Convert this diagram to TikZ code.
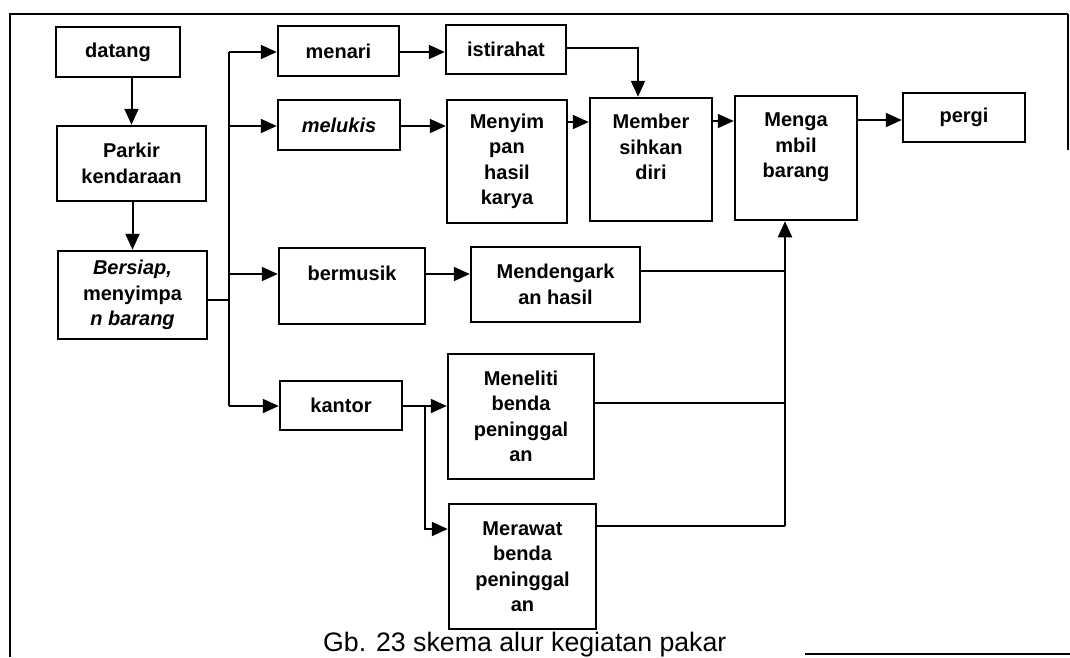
\documentclass[tikz,border=0pt]{standalone}
\usepackage{fontspec}
\setmainfont{Liberation Sans}
\usetikzlibrary{arrows.meta}
\begin{document}
\begin{tikzpicture}[x=1pt,y=-1pt,
  box/.style={draw, line width=2.5pt, inner sep=0pt, align=center,
    font=\bfseries\fontsize{20}{25.5}\selectfont},
  conn/.style={line width=2pt},
  arr/.style={conn, -{Triangle[length=16pt,width=14pt]}},
  frame/.style={line width=2.6pt}]
\useasboundingbox (0,0) rectangle (1070,657);
% frame
\draw[frame] (10,657) -- (10,14) -- (1068,14);
\draw[line width=1.4pt] (1068,14) -- (1068,150);
\draw[line width=2.2pt] (805,654) -- (1070,654);
% boxes
\node[box, minimum width=124pt, minimum height=50pt] (datang) at (118,52) {datang};
\node[box, minimum width=149pt, minimum height=75pt] (parkir) at (131.5,163.5) {Parkir\\kendaraan};
\node[box, minimum width=149pt, minimum height=88pt] (bersiap) at (132.5,295) {\itshape Bersiap,\\menyimpa\\\itshape n barang};
\node[box, minimum width=121pt, minimum height=50pt] (menari) at (338.5,51) {menari};
\node[box, minimum width=120pt, minimum height=49pt] (istirahat) at (506,49.5) {istirahat};
\node[box, minimum width=122pt, minimum height=50pt] (melukis) at (339,125) {\itshape melukis};
\node[box, minimum width=120pt, minimum height=123pt] (menyimpan) at (507,161.5) {Menyim\\pan\\hasil\\karya};
\node[box, minimum width=122pt, minimum height=123pt] (member) at (651,159.5) {Member\\sihkan\\diri\\~};
\node[box, minimum width=122pt, minimum height=124pt] (mengambil) at (796,158) {Menga\\mbil\\barang\\~};
\node[box, minimum width=122pt, minimum height=49pt] (pergi) at (964,117.5) {pergi};
\node[box, minimum width=146pt, minimum height=76pt] (bermusik) at (352,286) {bermusik\\~};
\node[box, minimum width=169pt, minimum height=75pt] (mendengar) at (555.5,284.5) {Mendengark\\an hasil};
\node[box, minimum width=122pt, minimum height=49pt] (kantor) at (341,405.5) {kantor};
\node[box, minimum width=146pt, minimum height=125pt] (meneliti) at (521,416.5) {Meneliti\\benda\\peninggal\\an};
\node[box, minimum width=147pt, minimum height=125pt] (merawat) at (522.5,566.5) {Merawat\\benda\\peninggal\\an};
% caption
\node[anchor=base west, inner sep=0pt, font=\fontsize{26.7}{30}\selectfont] (cap) at (323,651) {Gb. 23 skema alur kegiatan pakar};
% left column
\draw[arr] (datang.south -| parkir.north) -- (parkir.north);
\draw[arr] (parkir.south -| bersiap.north) -- (bersiap.north);
% trunk
\coordinate (t0) at (229,52);
\coordinate (t1) at (229,126);
\coordinate (tb) at (229,300);
\coordinate (t2) at (229,274);
\coordinate (t3) at (229,406);
\draw[conn] (bersiap.east |- tb) -- (tb);
\draw[conn] (t0) -- (t3);
\draw[arr] (t0) -- (menari.west |- t0);
\draw[arr] (t1) -- (melukis.west |- t1);
\draw[arr] (t2) -- (bermusik.west |- t2);
\draw[arr] (t3) -- (kantor.west |- t3);
% top rows
\draw[arr] (menari.east |- t0) -- (istirahat.west |- t0);
\coordinate (ic) at (638,48);
\draw[arr] (istirahat.east |- ic) -- (ic) -- (ic |- member.north);
\draw[arr] (melukis.east |- t1) -- (menyimpan.west |- t1);
\coordinate (r1) at (0,122);
\draw[arr] (menyimpan.east |- r1) -- (member.west |- r1);
\coordinate (r2) at (0,121);
\draw[arr] (member.east |- r2) -- (mengambil.west |- r2);
\coordinate (r3) at (0,120);
\draw[arr] (mengambil.east |- r3) -- (pergi.west |- r3);
\draw[arr] (bermusik.east |- t2) -- (mendengar.west |- t2);
% kantor branches
\coordinate (kb) at (425,406);
\coordinate (kb2) at (425,529);
\draw[arr] (kantor.east |- t3) -- (meneliti.west |- t3);
\draw[arr] (kb) -- (kb2) -- (merawat.west |- kb2);
% collectors
\coordinate (j1) at (785,271);
\coordinate (j2) at (785,403);
\coordinate (j3) at (785,526);
\draw[conn] (mendengar.east |- j1) -- (j1);
\draw[conn] (meneliti.east |- j2) -- (j2);
\draw[conn] (merawat.east |- j3) -- (j3);
\draw[arr] (j3) -- (j3 |- mengambil.south);
\end{tikzpicture}
\end{document}
